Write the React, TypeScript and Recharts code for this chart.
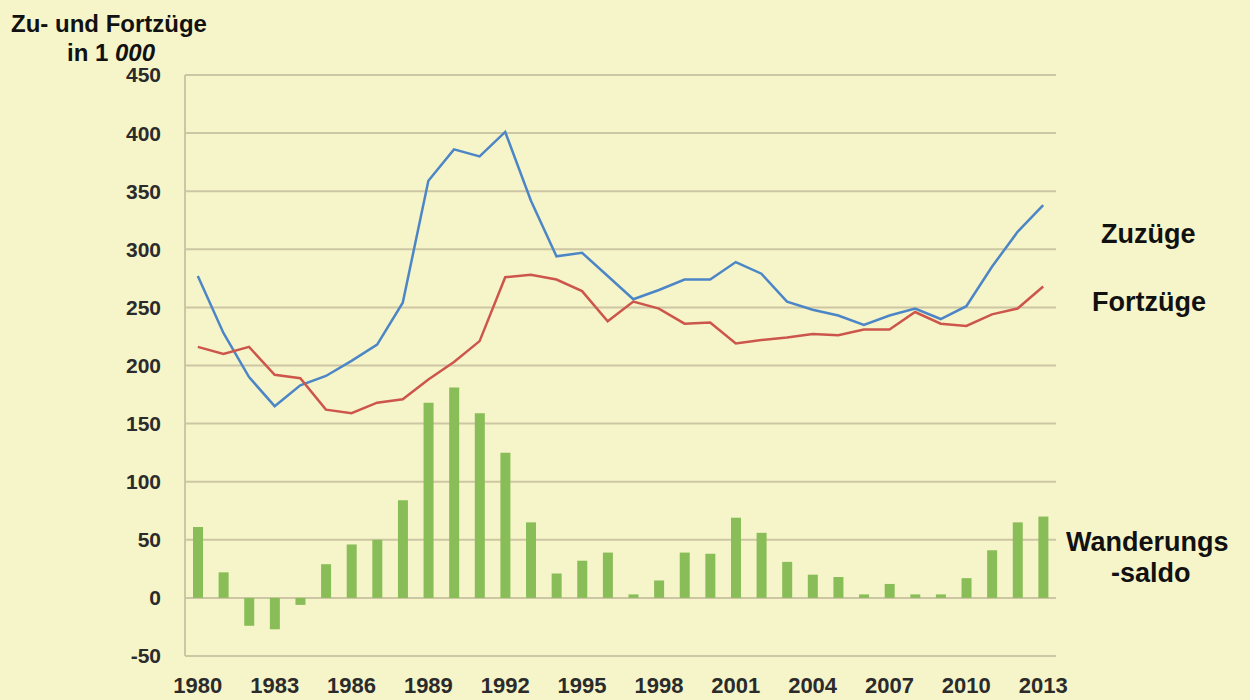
import React from 'react';
import { ComposedChart, Bar, Line, XAxis, YAxis, CartesianGrid } from 'recharts';

const years = [
  1980, 1981, 1982, 1983, 1984, 1985, 1986, 1987, 1988, 1989,
  1990, 1991, 1992, 1993, 1994, 1995, 1996, 1997, 1998, 1999,
  2000, 2001, 2002, 2003, 2004, 2005, 2006, 2007, 2008, 2009,
  2010, 2011, 2012, 2013,
];

const zuzuege = [
  277, 228, 190, 165, 183, 191, 204, 218, 254, 359,
  386, 380, 401, 342, 294, 297, 277, 257, 265, 274,
  274, 289, 279, 255, 248, 243, 235, 243, 249, 240,
  251, 285, 315, 338,
];

const fortzuege = [
  216, 210, 216, 192, 189, 162, 159, 168, 171, 188,
  203, 221, 276, 278, 274, 264, 238, 255, 249, 236,
  237, 219, 222, 224, 227, 226, 231, 231, 246, 236,
  234, 244, 249, 268,
];

const saldo = [
  61, 22, -24, -27, -6, 29, 46, 50, 84, 168,
  181, 159, 125, 65, 21, 32, 39, 3, 15, 39,
  38, 69, 56, 31, 20, 18, 3, 12, 3, 3,
  17, 41, 65, 70,
];

const yTicks = [-50, 0, 50, 100, 150, 200, 250, 300, 350, 400, 450];

const data = years.map((year, i) => ({
  year,
  zuzuege: zuzuege[i],
  fortzuege: fortzuege[i],
  saldo: saldo[i],
}));

const bg = '#f6f5c9';
const grid = '#cdc6a4';
const textColor = '#2b2b2b';
const font = '"Liberation Sans", Arial, sans-serif';

const labelStyle: React.CSSProperties = {
  position: 'absolute',
  fontFamily: font,
  fontWeight: 'bold',
  fontSize: 24,
  color: '#111',
  whiteSpace: 'nowrap',
  lineHeight: 1,
};

const sideLabel: React.CSSProperties = { ...labelStyle, fontSize: 27 };

const App: React.FC = () => {
  return (
    <div style={{ position: 'relative', width: 1250, height: 700, background: bg, overflow: 'hidden' }}>
      <style>{'body{margin:0}'}</style>
      <ComposedChart
        width={1250}
        height={700}
        data={data}
        margin={{ top: 75, right: 194, left: 0, bottom: 14 }}
        barSize={10}
      >
        <CartesianGrid vertical={false} stroke={grid} strokeWidth={2} />
        <XAxis
          dataKey="year"
          interval={2}
          axisLine={false}
          tickLine={false}
          tickSize={0}
          tickMargin={21}
          height={30}
          tick={{ fill: textColor, fontSize: 22, fontWeight: 'bold', fontFamily: font }}
        />
        <YAxis
          domain={[-50, 450]}
          ticks={yTicks}
          interval={0}
          width={185}
          axisLine={{ stroke: grid, strokeWidth: 2 }}
          tickLine={false}
          tickSize={0}
          tickMargin={24}
          tick={{ fill: textColor, fontSize: 21, fontWeight: 'bold', fontFamily: font }}
        />
        <Bar dataKey="saldo" fill="#88bd57" isAnimationActive={false} />
        <Line
          type="linear"
          dataKey="zuzuege"
          stroke="#4c86c6"
          strokeWidth={2.5}
          dot={false}
          isAnimationActive={false}
        />
        <Line
          type="linear"
          dataKey="fortzuege"
          stroke="#cd564c"
          strokeWidth={2.5}
          dot={false}
          isAnimationActive={false}
        />
      </ComposedChart>

      <div style={{ ...labelStyle, left: 11, top: 12 }}>Zu- und Fortzüge</div>
      <div style={{ ...labelStyle, left: 67, top: 41 }}>
        in 1 <i>000</i>
      </div>

      <div style={{ ...sideLabel, left: 1101, top: 221 }}>Zuzüge</div>
      <div style={{ ...sideLabel, left: 1092, top: 289 }}>Fortzüge</div>
      <div style={{ ...sideLabel, left: 1066, top: 529 }}>Wanderungs</div>
      <div style={{ ...sideLabel, left: 1111, top: 560 }}>-saldo</div>
    </div>
  );
};

export default App;
